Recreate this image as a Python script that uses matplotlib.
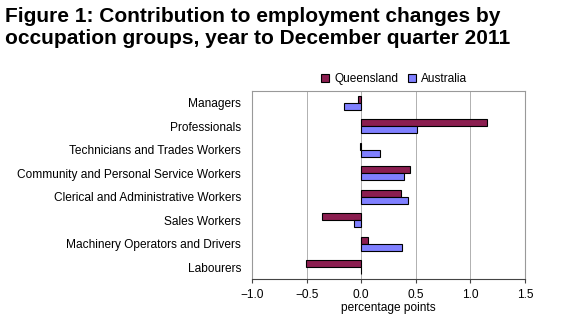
import numpy as np
import matplotlib
matplotlib.use("Agg")
import matplotlib.pyplot as plt

plt.rcParams['font.family'] = ['Liberation Sans', 'DejaVu Sans']

occupations = ['Managers', 'Professionals', 'Technicians and Trades Workers',
               'Community and Personal Service Workers',
               'Clerical and Administrative Workers', 'Sales Workers',
               'Machinery Operators and Drivers', 'Labourers']
queensland = [-0.03, 1.15, -0.01, 0.45, 0.36, -0.355, 0.06, -0.51]
australia = [-0.16, 0.51, 0.17, 0.39, 0.43, -0.07, 0.375, 0.0]
xticks = [-1.0, -0.5, 0.0, 0.5, 1.0, 1.5]

fig = plt.figure(figsize=(5.62, 3.32), dpi=100)
ax = fig.add_axes([0.4484, 0.1596, 0.4858, 0.566])

y = np.arange(len(occupations))
h = 0.3
ax.barh(y - h / 2, queensland, height=h, color='#8b1e50', edgecolor='black',
        linewidth=0.8, label='Queensland', zorder=3)
ax.barh(y + h / 2, australia, height=h, color='#8080ff', edgecolor='black',
        linewidth=0.8, label='Australia', zorder=3)

ax.set_xlim(-1.0, 1.5)
ax.set_ylim(len(occupations) - 0.5, -0.5)
ax.set_yticks(y)
ax.set_yticklabels(occupations, fontsize=8.6)
ax.set_xticks(xticks)
ax.set_xticklabels([('%.1f' % v).replace('-', '\u2212') for v in xticks], fontsize=8.6)
ax.tick_params(axis='y', length=0, pad=8)
ax.tick_params(axis='x', length=3, color='#444444', pad=4)
ax.set_xlabel('percentage points', fontsize=8.6, labelpad=1)
ax.grid(axis='x', color='#b0b0b0', linewidth=0.7, zorder=0)
for side in ('top', 'right', 'left'):
    ax.spines[side].set_color('#999999')
    ax.spines[side].set_linewidth(0.8)
ax.spines['bottom'].set_color('#444444')
ax.spines['bottom'].set_linewidth(0.8)

ax.legend(loc='lower center', bbox_to_anchor=(0.52, 1.0), ncol=2, frameon=False,
          fontsize=8.6, handlelength=0.7, handleheight=0.7, handletextpad=0.4,
          columnspacing=0.8, borderaxespad=0.1)

fig.text(0.009, 0.978, 'Figure 1: Contribution to employment changes by\n'
         'occupation groups, year to December quarter 2011',
         fontsize=15, fontweight='bold', va='top', ha='left', linespacing=1.2)

fig.savefig('out.png', dpi=100)
